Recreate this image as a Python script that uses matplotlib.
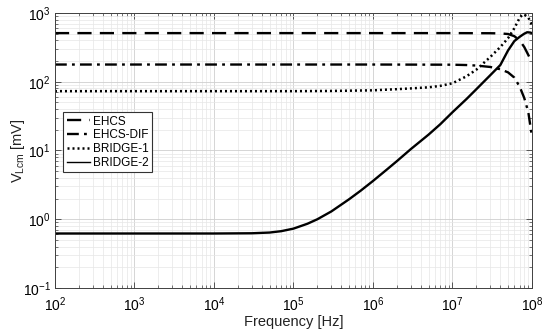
import numpy as np
import matplotlib
matplotlib.use("Agg")
import matplotlib.pyplot as plt

plt.rcParams["font.family"] = ["Liberation Sans", "DejaVu Sans"]
plt.rcParams["mathtext.fontset"] = "custom"
plt.rcParams["mathtext.rm"] = "Liberation Sans"
plt.rcParams["mathtext.it"] = "Liberation Sans:italic"
plt.rcParams["mathtext.default"] = "regular"

# values (frequency in Hz, voltage in mV)
freq_ehcs = [1e2, 1e4, 1e6, 1e7, 3e7, 4e7, 5e7, 6e7, 7e7, 8e7, 9e7, 1e8]
v_ehcs = [510, 510, 510, 510, 508, 505, 495, 460, 400, 320, 245, 190]

freq_dif = [1e2, 1e4, 1e6, 1e7, 1.5e7, 2e7, 3e7, 4e7, 5e7, 6e7, 7e7, 8e7, 9e7, 1e8]
v_dif = [178, 178, 178, 177, 175, 172, 164, 152, 137, 115, 85, 58, 36, 16]

freq_b1 = [1e2, 1e5, 3e5, 1e6, 2e6, 3e6, 5e6, 7e6, 1e7, 1.5e7, 2e7, 3e7,
           4e7, 5e7, 6e7, 7e7, 7.5e7, 8e7, 9e7, 1e8]
v_b1 = [73, 73, 73.5, 75, 78, 80, 83, 87, 95, 120, 150, 230,
        320, 430, 600, 850, 930, 950, 860, 670]

freq_b2 = [1e2, 1e4, 3e4, 5e4, 7e4, 1e5, 1.5e5, 2e5, 3e5, 5e5, 7e5, 1e6,
           1.5e6, 2e6, 3e6, 5e6, 7e6, 1e7, 1.5e7, 2e7, 3e7, 4e7, 5e7,
           6e7, 7e7, 8e7, 8.7e7, 9.5e7, 1e8]
v_b2 = [0.62, 0.62, 0.625, 0.64, 0.67, 0.73, 0.86, 1.0, 1.3, 1.95, 2.6, 3.6,
        5.3, 7.0, 10.5, 17, 24, 36, 56, 78, 125, 175, 285,
        390, 450, 500, 525, 520, 510]

x_ticks = [1e2, 1e3, 1e4, 1e5, 1e6, 1e7, 1e8]
y_ticks = [1e-1, 1e0, 1e1, 1e2, 1e3]

fig = plt.figure(figsize=(5.47, 3.31), dpi=100)
ax = fig.add_axes([0.1005, 0.13, 0.872, 0.8307])

ax.plot(freq_ehcs, v_ehcs, color="k", lw=1.7, dashes=(6, 3.5), label="EHCS")
ax.plot(freq_dif, v_dif, color="k", lw=1.7, dashes=(5, 2.2, 1.2, 2.2),
        label="EHCS-DIF")
ax.plot(freq_b1, v_b1, color="k", lw=1.8, dashes=(0.8, 1.2), label="BRIDGE-1")
ax.plot(freq_b2, v_b2, color="k", lw=1.7, label="BRIDGE-2")

ax.set_xscale("log")
ax.set_yscale("log")
ax.set_xticks(x_ticks)
ax.set_yticks(y_ticks)
ax.set_xlim(1e2, 1e8)
ax.set_ylim(1e-1, 1e3)

ax.grid(True, which="major", color="#cfcfcf", lw=0.6)
ax.grid(True, which="minor", color="#e6e6e6", lw=0.5)
ax.set_axisbelow(True)
ax.tick_params(which="both", direction="in", top=True, right=True,
               labelsize=10, color="#404040")
ax.tick_params(which="major", length=4, width=0.6)
ax.tick_params(which="minor", length=2, width=0.5)
ax.tick_params(axis="x", pad=5)
ax.tick_params(axis="y", pad=3)
for s in ax.spines.values():
    s.set_color("#404040")
    s.set_linewidth(0.7)

ax.set_xlabel("Frequency [Hz]", fontsize=10.5, color="#222222", labelpad=0)
ax.set_ylabel(r"V$_{\mathrm{Lcm}}$ [mV]", fontsize=10.5, color="#222222")
ax.xaxis.set_label_coords(0.5, -0.1)
ax.yaxis.set_label_coords(-0.058, 0.5)

leg = ax.legend(loc="upper left", bbox_to_anchor=(0.017, 0.64),
                borderaxespad=0, fontsize=8.5, fancybox=False,
                edgecolor="#333333", framealpha=1, handlelength=2.0,
                handletextpad=0.25, labelspacing=0.15, borderpad=0.3)
leg.get_frame().set_linewidth(0.8)
leg.get_lines()[3].set_linewidth(1.0)

fig.savefig("out.png", dpi=100)
